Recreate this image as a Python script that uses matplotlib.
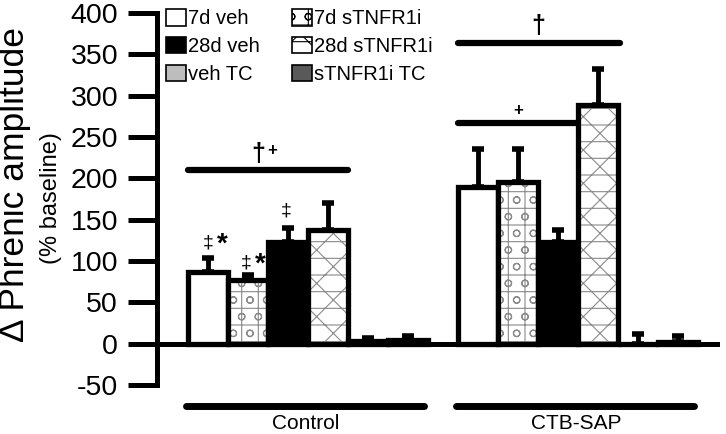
import numpy as np
import matplotlib.pyplot as plt
from matplotlib.patches import Patch

plt.rcParams['font.family'] = ['Liberation Sans', 'DejaVu Sans']
plt.rcParams['hatch.linewidth'] = 0.8
plt.rcParams['axes.unicode_minus'] = False

groups = ["Control", "CTB-SAP"]
series = ["7d veh", "7d sTNFR1i", "28d veh", "28d sTNFR1i", "veh TC", "sTNFR1i TC"]
control_mean = [87, 77, 123, 138, 3, 4]
control_top = [104, 83, 140, 170, 7, 9]
ctb_mean = [189, 195, 123, 289, 0, 2]
ctb_top = [236, 236, 138, 332, 12, 9]

faces = ["white", "white", "black", "white", "#bdbdbd", "#595959"]
hatches = [None, "+o", None, "x-", None, None]

fig = plt.figure(figsize=(7.26, 4.34), dpi=100)
ax = fig.add_axes([157 / 726, 1 - 385 / 434, (720 - 157) / 726, (385 - 13) / 434])

offsets = np.arange(6)
group_x = [1.0, 7.75]
means_all = [control_mean, ctb_mean]
tops_all = [control_top, ctb_top]

for gx, means, tops in zip(group_x, means_all, tops_all):
    xs = gx + offsets
    means = np.array(means)
    errs = np.array(tops) - means
    ax.errorbar(xs, means, yerr=[np.zeros(6), errs], fmt="none", ecolor="black",
                elinewidth=3.5, capsize=4, capthick=4, zorder=2)
    for x, m, fc, h in zip(xs, means, faces, hatches):
        if h:
            ax.bar(x, m, width=1.0, color="white", hatch=h, edgecolor="#8a8a8a",
                   linewidth=0, zorder=3)
            ax.bar(x, m, width=1.0, fill=False, edgecolor="black", linewidth=3.8,
                   zorder=4)
        else:
            ax.bar(x, m, width=1.0, color=fc, edgecolor="black", linewidth=3.8,
                   zorder=3)

ax.axhline(0, color="black", linewidth=3.6, zorder=5)

# significance bars
ax.plot([0.5, 4.5], [210, 210], color="black", lw=4.5, solid_capstyle="round")
ax.plot([7.25, 11.3], [364, 364], color="black", lw=4.5, solid_capstyle="round")
ax.plot([7.25, 10.25], [267, 267], color="black", lw=4.5, solid_capstyle="round")
ax.text(2.25, 230, "†", fontsize=18, fontweight="bold", ha="center", va="center")
ax.text(2.6, 234, "+", fontsize=12, fontweight="bold", ha="center", va="center")
ax.text(9.25, 384, "†", fontsize=18, fontweight="bold", ha="center", va="center")
ax.text(8.75, 282, "+", fontsize=12, fontweight="bold", ha="center", va="center")
ax.text(1.0, 122, "‡", fontsize=14, ha="center", va="center")
ax.text(1.35, 120, "*", fontsize=20, fontweight="bold", ha="center", va="center")
ax.text(1.95, 98, "‡", fontsize=14, ha="center", va="center")
ax.text(2.3, 96, "*", fontsize=20, fontweight="bold", ha="center", va="center")
ax.text(2.95, 160, "‡", fontsize=14, ha="center", va="center")

# group labels under the axis
for gx, name in zip(group_x, groups):
    ax.plot([gx - 0.55, gx + 5.4], [-76, -76], color="black", lw=5,
            solid_capstyle="round", clip_on=False)
    ax.text(gx + 2.45, -97, name, fontsize=15, ha="center", va="center")

ax.set_xlim(-0.275, 13.8)
ax.set_ylim(-50, 400)
ax.set_yticks(np.arange(-50, 401, 50))
ax.tick_params(axis="y", length=21, width=3.6, labelsize=20.5, pad=7)
ax.set_xticks([])
for s in ["top", "right", "bottom"]:
    ax.spines[s].set_visible(False)
ax.spines["left"].set_linewidth(3.6)

fig.text(15 / 726, 1 - 184 / 434, "Δ Phrenic amplitude", rotation=90,
         fontsize=25.5, ha="center", va="center")
fig.text(51 / 726, 1 - 198 / 434, "(% baseline)", rotation=90,
         fontsize=17, ha="center", va="center")

handles = []
for name in ["7d veh", "28d veh", "veh TC", "7d sTNFR1i", "28d sTNFR1i", "sTNFR1i TC"]:
    i = series.index(name)
    handles.append(Patch(facecolor=faces[i], edgecolor="black", hatch=hatches[i],
                         linewidth=1.2, label=name))
ax.legend(handles=handles, ncol=2, frameon=False, fontsize=14.5,
          loc="upper left", bbox_to_anchor=(166 / 726, 1 - 9 / 434),
          bbox_transform=fig.transFigure, borderaxespad=0, borderpad=0,
          handlelength=1.0, handleheight=0.9, handletextpad=0.1,
          columnspacing=1.6, labelspacing=0.42)

fig.savefig("out.png", dpi=100)
